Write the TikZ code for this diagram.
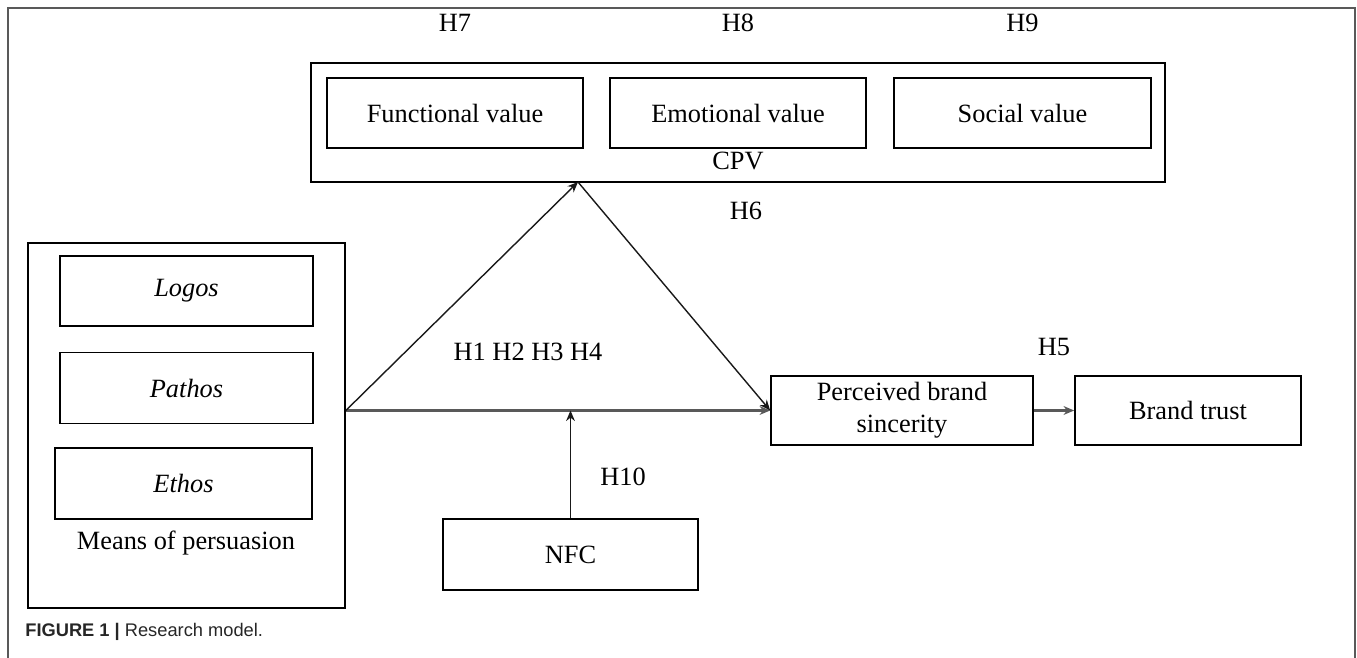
\documentclass[tikz,border=0pt]{standalone}
\usepackage{fontspec}
\setmainfont{Liberation Serif}
\newfontfamily\capfont{Liberation Sans}
\usepackage{tikz}
\usetikzlibrary{calc, positioning, arrows.meta}

\tikzset{
  valbox/.style={draw, line width=1pt, minimum height=1.4cm, inner sep=0pt, align=center},
  hline/.style={draw=black!65, line width=1.3pt, -{Stealth[length=6pt,width=5pt]}},
  dline/.style={draw=black!90, line width=0.8pt, -{Stealth[length=6pt,width=5pt]}},
  frame/.style={draw=black!65, line width=1pt},
}

\begin{document}
\begin{tikzpicture}[x=0.02cm, y=-0.02cm, font=\fontsize{15}{18}\selectfont]
                \useasboundingbox (0,0) rectangle (1357,658);
                \draw[frame] (8,658) -- (8,8) -- (1355,8) -- (1355,658);

                \node[valbox, minimum width=17.08cm, minimum height=2.38cm] (cpv) at (738,122.5) {};
                \node[valbox, minimum width=5.12cm] (func) at (455,113) {Functional value};
                \node[valbox, minimum width=5.12cm] (emo) at (738,113) {Emotional value};
                \node[valbox, minimum width=5.14cm] (soc) at (1022.5,113) {Social value};
                \node (cpvlabel) at (738,161) {CPV};

                \node (h7) at (455,23) {H7};
                \node (h8) at (738,23) {H8};
                \node (h9) at (1022.5,23) {H9};

                \node[valbox, minimum width=6.34cm, minimum height=7.3cm] (mop) at (186.5,425.5) {};
                \node[valbox, minimum width=5.06cm] (logos) at (186.5,291) {\textit{Logos}};
                \node[valbox, minimum width=5.06cm, minimum height=1.42cm] (pathos) at (186.5,388) {\textit{Pathos}};
                \node[valbox, minimum width=5.14cm, minimum height=1.42cm] (ethos) at (183.5,483.5) {\textit{Ethos}};
                \node (moplabel) at (186,543) {Means of persuasion};

                \node[valbox, minimum width=5.24cm, minimum height=1.38cm] (pbs) at (902,410.5) {Perceived brand\\sincerity};
                \node[valbox, minimum width=4.52cm, minimum height=1.38cm] (trust) at (1188,410.5) {Brand trust};
                \node[valbox, minimum width=5.1cm, minimum height=1.42cm] (nfc) at (570.5,554.5) {NFC};

                \node (h6) at (746,211) {H6};
                \node (h5) at (1054,347) {H5};
                \node (h14) at (528,352) {H1 H2 H3 H4};
                \node (h10) at (623,477) {H10};

                \coordinate (split) at (mop.east |- pbs.west);
                \coordinate (apex) at (578,182);
                \coordinate (nfcend) at (nfc.north |- split);

                \draw[hline] (split) -- (pbs.west);
                \draw[dline] (split) -- (apex);
                \draw[dline] (apex) -- (pbs.west);
                \draw[dline] (nfc.north) -- (nfcend);
                \draw[hline] (pbs.east) -- (trust.west);

                \node[anchor=west, inner sep=0pt, text=black!85, font=\capfont\fontsize{10.4}{12}\selectfont] (caption) at (25,632) {\textbf{FIGURE 1 |} Research model.};
            \end{tikzpicture}
\end{document}
